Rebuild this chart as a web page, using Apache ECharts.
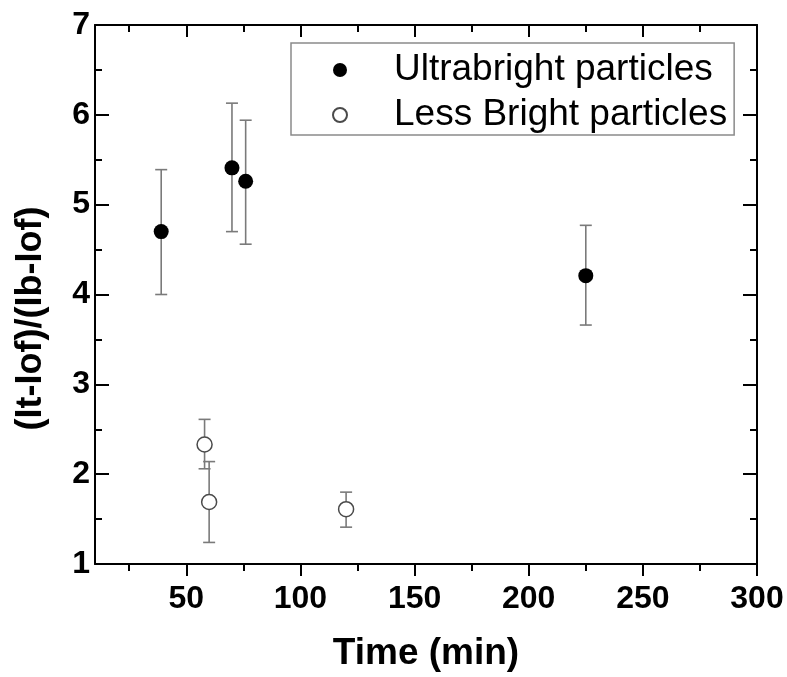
<!DOCTYPE html>
<html>
<head>
<meta charset="utf-8">
<script src="https://cdn.jsdelivr.net/npm/echarts@6/dist/echarts.min.js"></script>
<style>
  html, body { margin: 0; padding: 0; background: #fff; }
  #main { width: 787px; height: 677px; }
</style>
</head>
<body>
<div id="main"></div>
<script>
// Ultrabright particles (filled)
var ubTime = [39, 70, 76, 225];
var ubRatio = [4.70, 5.41, 5.26, 4.21];
var ubLow = [4.00, 4.70, 4.56, 3.66];
var ubHigh = [5.39, 6.13, 5.94, 4.77];

// Less bright particles (open)
var lbTime = [58, 60, 120];
var lbRatio = [2.33, 1.69, 1.61];
var lbLow = [2.06, 1.24, 1.41];
var lbHigh = [2.61, 2.14, 1.80];

var xMajor = [50, 100, 150, 200, 250, 300];
var xMinor = [25, 75, 125, 175, 225, 275];

var FONT = 'Liberation Sans, Arial, sans-serif';

function points(xs, ys) {
  var out = [];
  for (var i = 0; i < xs.length; i++) out.push([xs[i], ys[i]]);
  return out;
}
function bars(xs, lo, hi) {
  var out = [];
  for (var i = 0; i < xs.length; i++) out.push([xs[i], lo[i], hi[i]]);
  return out;
}

// error bar with caps
function errRender(params, api) {
  var x = api.value(0);
  var lo = api.coord([x, api.value(1)]);
  var hi = api.coord([x, api.value(2)]);
  var hw = 6;
  var st = { stroke: '#7a7a7a', lineWidth: 1.6 };
  return {
    type: 'group',
    children: [
      { type: 'line', shape: { x1: lo[0], y1: lo[1], x2: hi[0], y2: hi[1] }, style: st },
      { type: 'line', shape: { x1: lo[0] - hw, y1: lo[1], x2: lo[0] + hw, y2: lo[1] }, style: st },
      { type: 'line', shape: { x1: hi[0] - hw, y1: hi[1], x2: hi[0] + hw, y2: hi[1] }, style: st }
    ]
  };
}

var lineStyle = { color: '#000', width: 2 };

var chart = echarts.init(document.getElementById('main'));
var option = {
  backgroundColor: '#fff',
  animation: false,
  grid: { left: 95, right: 30, top: 25, bottom: 112, containLabel: false },
  legend: {
    orient: 'vertical',
    left: 291,
    top: 43,
    padding: [7, 7, 0, 41],
    borderColor: '#8a8a8a',
    borderWidth: 1.5,
    itemWidth: 98,
    itemHeight: 14,
    itemGap: 5,
    textStyle: { fontFamily: FONT, fontSize: 37, color: '#000', lineHeight: 40 },
    data: ['Ultrabright particles', 'Less Bright particles']
  },
  xAxis: [
    {
      type: 'value', min: 10, max: 300, position: 'bottom',
      name: 'Time (min)', nameLocation: 'middle', nameGap: 71,
      nameTextStyle: { fontFamily: FONT, fontSize: 37, fontWeight: 'bold', color: '#000' },
      axisLine: { show: true, lineStyle: lineStyle },
      axisTick: { show: true, inside: false, length: 12, lineStyle: lineStyle, customValues: xMajor },
      axisLabel: { show: true, customValues: xMajor, margin: 19, fontFamily: FONT, fontSize: 32, fontWeight: 'bold', color: '#000' },
      splitLine: { show: false }
    },
    {
      type: 'value', min: 10, max: 300, position: 'bottom',
      axisLine: { show: false },
      axisTick: { show: true, inside: false, length: 7, lineStyle: lineStyle, customValues: xMinor },
      axisLabel: { show: false },
      splitLine: { show: false }
    },
    {
      type: 'value', min: 10, max: 300, position: 'top',
      axisLine: { show: true, lineStyle: lineStyle },
      axisTick: { show: true, inside: true, length: 12, lineStyle: lineStyle, customValues: xMajor },
      axisLabel: { show: false },
      splitLine: { show: false }
    },
    {
      type: 'value', min: 10, max: 300, position: 'top',
      axisLine: { show: false },
      axisTick: { show: true, inside: true, length: 7, lineStyle: lineStyle, customValues: xMinor },
      axisLabel: { show: false },
      splitLine: { show: false }
    }
  ],
  yAxis: [
    {
      type: 'value', min: 1, max: 7, interval: 1, position: 'left',
      name: '(It-Iof)/(Ib-Iof)', nameLocation: 'middle', nameGap: 46, nameRotate: 90,
      nameTextStyle: { fontFamily: FONT, fontSize: 36, fontWeight: 'bold', color: '#000', padding: [0, 48, 0, 0] },
      axisLine: { show: true, lineStyle: lineStyle },
      axisTick: { show: true, inside: true, length: 14, lineStyle: lineStyle },
      minorTick: { show: true, splitNumber: 2, length: 7, lineStyle: lineStyle },
      axisLabel: { margin: 5, fontFamily: FONT, fontSize: 32, fontWeight: 'bold', color: '#000' },
      splitLine: { show: false }
    },
    {
      type: 'value', min: 1, max: 7, interval: 1, position: 'right',
      axisLine: { show: true, lineStyle: lineStyle },
      axisTick: { show: true, inside: true, length: 14, lineStyle: lineStyle },
      minorTick: { show: true, splitNumber: 2, length: 7, lineStyle: lineStyle },
      axisLabel: { show: false },
      splitLine: { show: false }
    }
  ],
  series: [
    {
      type: 'custom', name: 'ub-err', renderItem: errRender,
      data: bars(ubTime, ubLow, ubHigh), z: 1, silent: true,
      encode: { x: 0, y: [1, 2] }
    },
    {
      type: 'custom', name: 'lb-err', renderItem: errRender,
      data: bars(lbTime, lbLow, lbHigh), z: 1, silent: true,
      encode: { x: 0, y: [1, 2] }
    },
    {
      type: 'scatter', name: 'Ultrabright particles',
      data: points(ubTime, ubRatio), symbol: 'circle', symbolSize: 15, z: 3,
      itemStyle: { color: '#000', opacity: 1 }
    },
    {
      type: 'scatter', name: 'Less Bright particles',
      data: points(lbTime, lbRatio), symbol: 'circle', symbolSize: 15, z: 3,
      itemStyle: { color: '#fff', borderColor: '#4a4a4a', borderWidth: 1.5, opacity: 1 }
    }
  ]
};
chart.setOption(option);
</script>
</body>
</html>
